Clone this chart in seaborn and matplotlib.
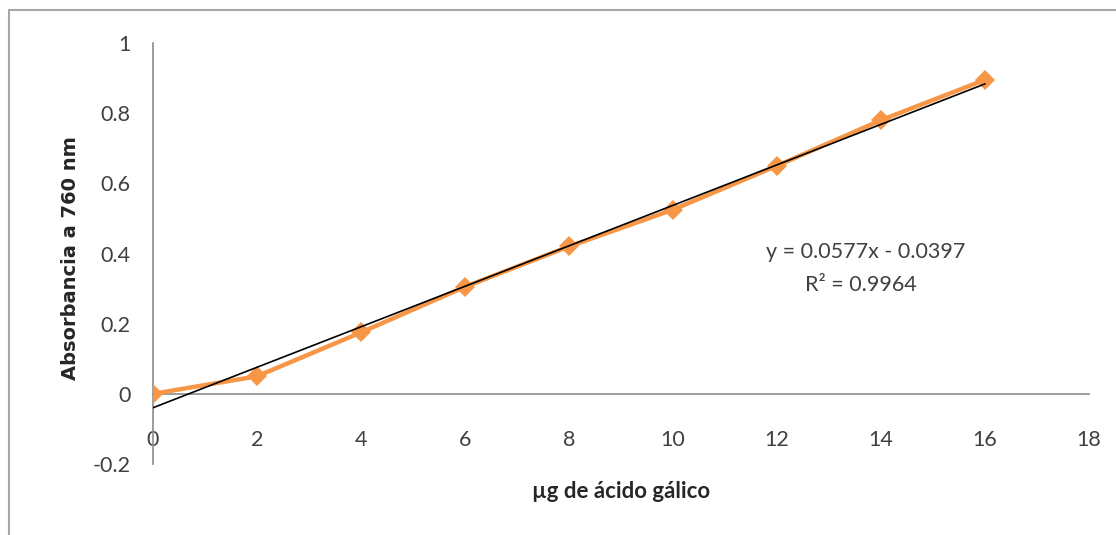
import numpy as np
import pandas as pd
import seaborn as sns
import matplotlib.pyplot as plt
from matplotlib.lines import Line2D

# Curva de calibración: ácido gálico vs absorbancia
acido_galico_ug = [0, 2, 4, 6, 8, 10, 12, 14, 16]
absorbancia = [0.0, 0.05, 0.175, 0.305, 0.42, 0.525, 0.65, 0.78, 0.895]

# Línea de tendencia lineal
pendiente = 0.0577
intercepto = -0.0397
r_cuadrado = 0.9964

x_ticks = [0, 2, 4, 6, 8, 10, 12, 14, 16, 18]
y_ticks = [-0.2, 0, 0.2, 0.4, 0.6, 0.8, 1]
y_tick_labels = ["-0.2", "0", "0.2", "0.4", "0.6", "0.8", "1"]

sns.set_theme(style="white")
plt.rcParams["font.family"] = ["Lato", "DejaVu Sans"]

W, H = 1116, 535
fig = plt.figure(figsize=(W / 100, H / 100), dpi=100)
ax = fig.add_axes([153 / W, (H - 464) / H, (1089 - 153) / W, (464 - 43) / H])

df = pd.DataFrame({"ug": acido_galico_ug, "abs": absorbancia})
sns.lineplot(data=df, x="ug", y="abs", ax=ax, color="#F79646", lw=3.2,
             marker="D", markersize=10, markeredgewidth=0, zorder=3)

xs = np.array([acido_galico_ug[0], acido_galico_ug[-1]], dtype=float)
ax.plot(xs, pendiente * xs + intercepto, color="black", lw=1.2, zorder=4)

ax.set_xlim(0, 18)
ax.set_ylim(-0.2, 1)
ax.set_xticks(x_ticks)
ax.set_xticklabels([str(t) for t in x_ticks])
ax.set_yticks(y_ticks)
ax.set_yticklabels(y_tick_labels)
ax.set_xlabel("")
ax.set_ylabel("")

for side in ("top", "right"):
    ax.spines[side].set_visible(False)
for side in ("left", "bottom"):
    ax.spines[side].set_position(("data", 0))
    ax.spines[side].set_color("#8c8c8c")
    ax.spines[side].set_linewidth(1.2)

ax.tick_params(axis="both", length=0, labelsize=15.5, labelcolor="#404040")
ax.tick_params(axis="x", pad=26)
ax.tick_params(axis="y", pad=16)
ax.grid(False)

fig.text(70 / W, 1 - 258 / H, "Absorbancia a 760 nm", rotation=90,
         ha="center", va="center", fontsize=14, fontweight="bold",
         family=["DejaVu Sans"], color="#262626")
fig.text(621 / W, 1 - 492 / H, "µg de ácido gálico", ha="center", va="center",
         fontsize=16, fontweight="bold", color="#262626")

fig.text(866 / W, 1 - 252 / H, f"y = {pendiente}x - {abs(intercepto)}",
         ha="center", va="center", fontsize=15.5, color="#404040")
fig.text(861 / W, 1 - 285 / H, f"R² = {r_cuadrado}",
         ha="center", va="center", fontsize=15.5, color="#404040")

# Marco del gráfico
fig.add_artist(Line2D([9 / W, 9 / W], [0, 1 - 10 / H], color="#a6a6a6", lw=1.5))
fig.add_artist(Line2D([9 / W, 1], [1 - 10 / H, 1 - 10 / H], color="#a6a6a6", lw=1.5))

fig.savefig("out.png", dpi=100)
